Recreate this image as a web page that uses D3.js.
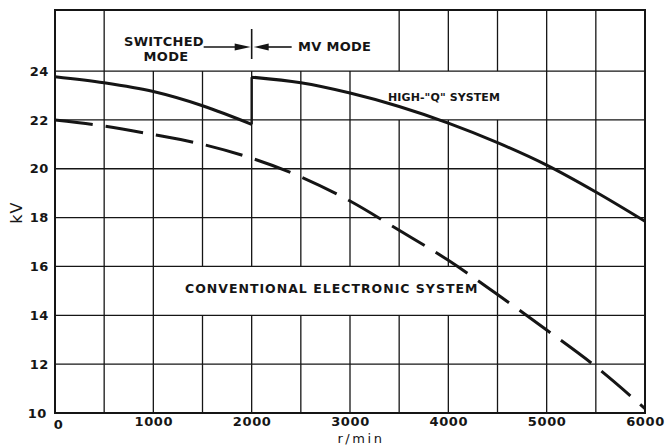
<!DOCTYPE html>
<html>
<head>
<meta charset="utf-8">
<script src="https://cdn.jsdelivr.net/npm/d3@7"></script>
<style>
  html, body { margin: 0; padding: 0; background: #fff; }
  svg { display: block; }
  text { font-family: "DejaVu Sans", sans-serif; font-weight: bold; fill: #151515; }
  text.plain { font-weight: normal; }
</style>
</head>
<body>
<svg id="chart" width="669" height="447"></svg>
<script>
// Speed axis (r/min) and voltage axis (kV)
const xTicks = [0, 1000, 2000, 3000, 4000, 5000, 6000];
const yTicks = [10, 12, 14, 16, 18, 20, 22, 24];
const xGrid = [500, 1000, 1500, 2000, 2500, 3000, 3500, 4000, 4500, 5000, 5500];

// High-"Q" system: switched mode up to 2000 r/min, then MV mode
const highQSwitchedRpm = [0, 500, 1000, 1500, 2000];
const highQSwitchedKv  = [23.77, 23.52, 23.16, 22.58, 21.82];
const highQMvRpm = [2000, 2500, 3000, 3500, 4000, 4500, 5000, 5500, 6000];
const highQMvKv  = [23.75, 23.52, 23.1, 22.55, 21.87, 21.07, 20.15, 19.05, 17.85];

// Conventional electronic system
const convRpm = [0, 500, 1000, 1500, 2000, 2500, 3000, 3500, 4000, 4500, 5000, 5500, 6000];
const convKv  = [22.0, 21.75, 21.4, 21.0, 20.43, 19.67, 18.68, 17.48, 16.25, 14.85, 13.4, 11.9, 10.18];

const svg = d3.select("#chart");
const ink = "#151515";

const x = d3.scaleLinear().domain([0, 6000]).range([55, 645]);
const y = d3.scaleLinear().domain([10, 26.5]).range([413, 10]);

// Grid rows between horizontal rules; vertical rules are left out inside label cells
const rowEdges = [10, 12, 14, 16, 18, 20, 22, 24, 26.5];
const openCells = [
  { from: 1000, to: 3000, lo: 24, hi: 26.5 },
  { from: 3500, to: 4500, lo: 22, hi: 24 },
  { from: 1500, to: 4000, lo: 14, hi: 16 }
];
const gridG = svg.append("g").attr("stroke", ink).attr("stroke-width", 1.3);
yTicks.filter(v => v > 10).forEach(v => {
  gridG.append("line").attr("x1", x(0)).attr("x2", x(6000)).attr("y1", y(v)).attr("y2", y(v));
});
xGrid.forEach(r => {
  for (let i = 0; i < rowEdges.length - 1; i++) {
    const lo = rowEdges[i], hi = rowEdges[i + 1];
    const hidden = openCells.some(c => r >= c.from && r <= c.to && lo === c.lo && hi === c.hi);
    if (!hidden) {
      gridG.append("line").attr("x1", x(r)).attr("x2", x(r)).attr("y1", y(lo)).attr("y2", y(hi));
    }
  }
});

// Frame
svg.append("rect")
  .attr("x", x(0)).attr("y", y(26.5))
  .attr("width", x(6000) - x(0)).attr("height", y(10) - y(26.5))
  .attr("fill", "none").attr("stroke", ink).attr("stroke-width", 2);

// Axes (labels only)
const xAxis = svg.append("g").attr("transform", `translate(0,${y(10)})`)
  .call(d3.axisBottom(x).tickValues(xTicks).tickSize(0).tickPadding(4).tickFormat(d3.format("d")));
const yAxis = svg.append("g").attr("transform", `translate(${x(0)},0)`)
  .call(d3.axisLeft(y).tickValues(yTicks).tickSize(0).tickPadding(6).tickFormat(d3.format("d")));
[xAxis, yAxis].forEach(a => {
  a.select(".domain").remove();
  a.selectAll("text").attr("font-size", 13).attr("font-family", "DejaVu Sans, sans-serif")
    .attr("font-weight", "bold").attr("fill", ink).attr("letter-spacing", 0.6);
});
xAxis.selectAll(".tick").filter(d => d === 0).select("text").attr("dx", 3).attr("dy", "0.9em");
yAxis.selectAll(".tick").filter(d => d === 10).select("text").attr("dx", -2);

svg.append("text").attr("class", "plain").attr("x", 361).attr("y", 443).attr("text-anchor", "middle")
  .attr("font-size", 13).attr("letter-spacing", 2.6).text("r/min");
svg.append("text").attr("class", "plain").attr("transform", `translate(22,${y(18.2)}) rotate(-90)`)
  .attr("text-anchor", "middle").attr("font-size", 16).attr("letter-spacing", 1).text("kV");

// Curves
const line = d3.line().x(d => x(d[0])).y(d => y(d[1])).curve(d3.curveMonotoneX);
const switched = highQSwitchedRpm.map((r, i) => [r, highQSwitchedKv[i]]);
const mv = highQMvRpm.map((r, i) => [r, highQMvKv[i]]);
const conv = convRpm.map((r, i) => [r, convKv[i]]);

svg.append("path").attr("d", line(switched))
  .attr("fill", "none").attr("stroke", ink).attr("stroke-width", 3);
svg.append("line")
  .attr("x1", x(2000)).attr("x2", x(2000))
  .attr("y1", y(highQSwitchedKv[highQSwitchedKv.length - 1])).attr("y2", y(highQMvKv[0]))
  .attr("stroke", ink).attr("stroke-width", 2.4);
svg.append("path").attr("d", line(mv))
  .attr("fill", "none").attr("stroke", ink).attr("stroke-width", 3);
svg.append("path").attr("d", line(conv))
  .attr("fill", "none").attr("stroke", ink).attr("stroke-width", 3)
  .attr("stroke-dasharray", "38,13");

// Mode annotation with arrows meeting at 2000 r/min
const xs = x(2000), ya = 47;
const ann = svg.append("g").attr("stroke", ink).attr("fill", ink);
ann.append("line").attr("x1", xs).attr("x2", xs).attr("y1", 29).attr("y2", 59).attr("stroke-width", 1.6);
ann.append("line").attr("x1", xs - 48).attr("x2", xs - 12).attr("y1", ya).attr("y2", ya).attr("stroke-width", 1.6);
ann.append("path").attr("d", `M${xs - 1},${ya} L${xs - 17},${ya - 3.5} L${xs - 17},${ya + 3.5} Z`).attr("stroke", "none");
ann.append("line").attr("x1", xs + 12).attr("x2", xs + 40).attr("y1", ya).attr("y2", ya).attr("stroke-width", 1.6);
ann.append("path").attr("d", `M${xs + 2},${ya} L${xs + 17},${ya - 3.5} L${xs + 17},${ya + 3.5} Z`).attr("stroke", "none");

svg.append("text").attr("x", 164).attr("y", 46).attr("text-anchor", "middle").attr("font-size", 13)
  .attr("letter-spacing", 0.3).text("SWITCHED");
svg.append("text").attr("x", 166).attr("y", 61).attr("text-anchor", "middle").attr("font-size", 13)
  .attr("letter-spacing", 0.3).text("MODE");
svg.append("text").attr("x", 298).attr("y", 51).attr("font-size", 13)
  .attr("letter-spacing", 0.3).text("MV MODE");
svg.append("text").attr("x", 388).attr("y", 101).attr("font-size", 11)
  .attr("letter-spacing", 0.1).text("HIGH-\"Q\" SYSTEM");
svg.append("text").attr("x", 185).attr("y", 293).attr("font-size", 12.5)
  .attr("letter-spacing", 1).text("CONVENTIONAL ELECTRONIC SYSTEM");
</script>
</body>
</html>
